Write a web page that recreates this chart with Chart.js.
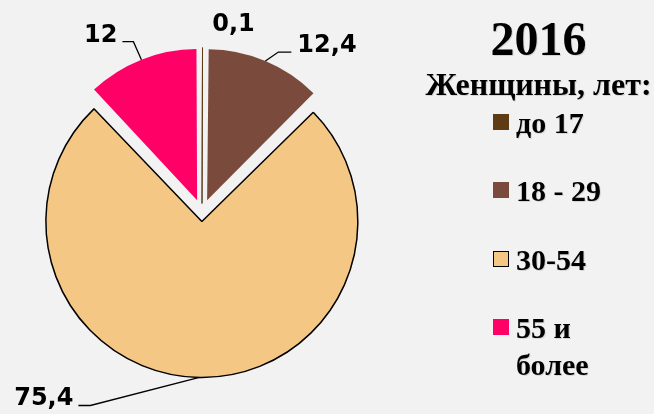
<!DOCTYPE html>
<html lang="ru">
<head>
<meta charset="utf-8">
<title>2016 — Женщины, лет</title>
<script src="https://cdn.jsdelivr.net/npm/chart.js@4.4.0/dist/chart.umd.min.js"></script>
<style>
  html, body { margin: 0; padding: 0; background: #F2F2F2; }
  #wrap { position: relative; width: 654px; height: 414px; overflow: hidden; }
  #pie { position: absolute; left: 0; top: 0; }
  .serif { font-family: "Liberation Serif", "Times New Roman", serif; font-weight: bold; color: #000;
           text-shadow: 1px 1px 0 rgba(0,0,0,0.12); }
  #title { position: absolute; left: 423px; width: 231px; top: 15px; text-align: center;
           font-size: 48px; line-height: 48px; }
  #subtitle { position: absolute; left: 413px; width: 251px; top: 68px; text-align: center;
              font-size: 32px; line-height: 32px; white-space: nowrap; }
  .item { position: absolute; left: 493px; width: 160px; }
  .item .box { position: absolute; left: 0; top: 10px; width: 16px; height: 16px; box-sizing: border-box; }
  .item .txt { position: absolute; left: 23px; top: 0; width: 125px; font-size: 30px; line-height: 37px; }
</style>
</head>
<body>
<div id="wrap">
  <canvas id="pie" width="654" height="414"></canvas>
  <div id="title" class="serif"></div>
  <div id="subtitle" class="serif"></div>
</div>
<script>
// данные
const categories = ['до 17', '18 - 29', '30-54', '55 и более'];
const values = [0.1, 12.4, 75.4, 12];
const sliceColors = ['#5E3A15', '#7A4B3C', '#F5C785', '#FF0066'];
const chartTitle = '2016';
const legendTitle = 'Женщины, лет:';

// подписи значений: смещение излома выноски от точки на дуге
const labelLayout = [
  { dx: 31, dy: -17, align: 'center', tail: 0, gap: 0 },
  { dx: 13, dy: -9, align: 'left', tail: 13, gap: 6 },
  { dx: -109, dy: 28, align: 'right', tail: 12, gap: 5 },
  { dx: -8, dy: -18, align: 'right', tail: 11, gap: 5 }
];

function fmt(v) {
  return String(v).replace('.', ',');
}

const pieLabels = {
  id: 'pieLabels',
  afterDatasetsDraw(chart) {
    const ctx = chart.ctx;
    const meta = chart.getDatasetMeta(0);
    ctx.save();
    ctx.font = 'bold 24px "DejaVu Sans"';
    ctx.fillStyle = '#000';
    ctx.strokeStyle = '#000';
    ctx.lineWidth = 1.3;
    ctx.textBaseline = 'alphabetic';
    meta.data.forEach((arc, i) => {
      const p = arc.getProps(['x', 'y', 'startAngle', 'endAngle', 'outerRadius', 'circumference'], true);
      const off = (arc.options.offset || 0) / 4;
      const mid = (p.startAngle + p.endAngle) / 2;
      const fix = 1 - Math.sin(Math.min(Math.PI, p.circumference));
      const r = p.outerRadius + off * fix;
      const ax = p.x + Math.cos(mid) * (off + r);
      const ay = p.y + Math.sin(mid) * (off + r);
      const lay = labelLayout[i];
      const ex = ax + lay.dx;
      const ey = ay + lay.dy;
      const text = fmt(values[i]);
      if (lay.tail) {
        const dir = lay.align === 'right' ? -1 : 1;
        ctx.beginPath();
        ctx.moveTo(ax, ay);
        ctx.lineTo(ex, ey);
        ctx.lineTo(ex + dir * lay.tail, ey);
        ctx.stroke();
        ctx.textAlign = lay.align;
        ctx.fillText(text, ex + dir * (lay.tail + lay.gap), ey);
      } else {
        ctx.textAlign = 'center';
        ctx.fillText(text, ex, ey);
      }
    });
    ctx.restore();
  }
};

new Chart(document.getElementById('pie'), {
  type: 'pie',
  data: {
    labels: categories,
    datasets: [{
      data: values,
      backgroundColor: sliceColors,
      borderColor: [sliceColors[0], sliceColors[1], '#000', sliceColors[3]],
      borderWidth: [1, 0, 1.5, 0],
      offset: [36, 53, 36, 53],
      hoverOffset: 0
    }]
  },
  options: {
    responsive: false,
    animation: false,
    events: [],
    radius: 147,
    layout: { padding: { left: 0, right: 250, top: 11, bottom: 0 } },
    plugins: {
      legend: { display: false },
      tooltip: { enabled: false }
    }
  },
  plugins: [pieLabels]
});

// легенда справа
document.getElementById('title').textContent = chartTitle;
document.getElementById('subtitle').textContent = legendTitle;
const wrap = document.getElementById('wrap');
const rowTop = [104, 172, 241, 309];
categories.forEach((name, i) => {
  const item = document.createElement('div');
  item.className = 'item';
  item.style.top = rowTop[i] + 'px';
  const box = document.createElement('span');
  box.className = 'box';
  box.style.background = sliceColors[i];
  if (i === 2) box.style.border = '1.5px solid #000';
  const txt = document.createElement('div');
  txt.className = 'txt serif';
  txt.textContent = name;
  item.appendChild(box);
  item.appendChild(txt);
  wrap.appendChild(item);
});
</script>
</body>
</html>
